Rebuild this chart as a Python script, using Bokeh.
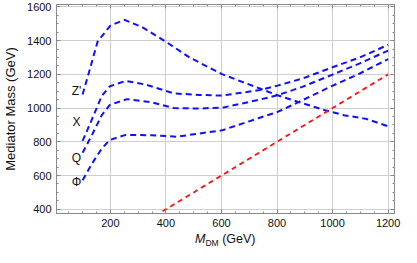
import math
from bokeh.plotting import figure
from bokeh.layouts import column
from bokeh.models import (FixedTicker, LinearAxis, Range1d, Div,
                          ColumnDataSource, CustomJSTickFormatter)
from bokeh.core.properties import value
from bokeh.embed import file_html
from bokeh.resources import INLINE

# ---- data ----
zp_x = [100, 120, 154, 200, 251, 314, 399, 485, 602, 733, 802, 881, 973, 1041, 1121, 1200]
zp_y = [1080, 1195, 1394, 1489, 1523, 1480, 1394, 1300, 1201, 1119, 1076, 1034, 987, 958, 936, 892]

xx_x = [100, 140, 169, 198, 255, 328, 428, 519, 600, 733, 802, 893, 995, 1098, 1200]
xx_y = [805, 958, 1072, 1129, 1161, 1139, 1087, 1078, 1074, 1105, 1133, 1176, 1239, 1300, 1375]

q_x = [100, 135, 169, 198, 260, 348, 428, 519, 608, 733, 802, 893, 995, 1098, 1200]
q_y = [735, 845, 958, 1019, 1053, 1034, 1000, 997, 1004, 1048, 1076, 1127, 1195, 1265, 1341]

phi_x = [100, 135, 169, 198, 255, 348, 439, 519, 602, 733, 802, 881, 995, 1098, 1200]
phi_y = [572, 674, 760, 811, 841, 839, 830, 849, 868, 940, 977, 1038, 1129, 1205, 1290]

diag_x = [0, 1200]
diag_y = [0, 1200]

curve_names = ["Z'", "X", "Q", "\u03a6"]
name_x = [78, 78, 78, 78]
name_y = [1100, 920, 703, 561]

x_major = [200, 400, 600, 800, 1000, 1200]
x_minor = list(range(0, 1250, 50))
y_major = [400, 600, 800, 1000, 1200, 1400, 1600]
y_minor = list(range(350, 1650, 50))

FONT = "Liberation Sans"
FRAME = "#8a8a8a"
GRID = "#cfcfcf"
TXT = "#111111"

p = figure(width=401, height=231, x_range=Range1d(6, 1223), y_range=Range1d(375, 1614),
           output_backend="svg", toolbar_location=None,
           min_border_left=52, min_border_right=7, min_border_top=4, min_border_bottom=18)
p.background_fill_color = "white"
p.border_fill_color = "white"
p.outline_line_color = FRAME

xt = FixedTicker(ticks=x_major, minor_ticks=x_minor)
yt = FixedTicker(ticks=y_major, minor_ticks=y_minor)

p.xaxis.ticker = xt
p.yaxis.ticker = yt
p.xgrid.ticker = xt
p.ygrid.ticker = yt
p.grid.grid_line_color = GRID
p.grid.grid_line_width = 1

top = LinearAxis(ticker=xt, formatter=CustomJSTickFormatter(code="return ''"))
right = LinearAxis(ticker=yt, formatter=CustomJSTickFormatter(code="return ''"))
p.add_layout(top, "above")
p.add_layout(right, "right")

for ax in p.axis:
    ax.axis_line_color = FRAME
    ax.major_tick_line_color = FRAME
    ax.minor_tick_line_color = FRAME
    ax.major_tick_in = 4
    ax.major_tick_out = 0
    ax.minor_tick_in = 2
    ax.minor_tick_out = 0
    ax.major_label_text_font = FONT
    ax.major_label_text_font_size = "11px"
    ax.major_label_text_color = TXT

for ax in (top, right):
    ax.major_label_standoff = 0
    ax.major_label_text_font_size = "0px"

p.xaxis[0].major_label_standoff = 5
p.yaxis[0].major_label_standoff = 5
p.yaxis[0].axis_label = "Mediator Mass (GeV)"
p.yaxis[0].axis_label_text_font = FONT
p.yaxis[0].axis_label_text_font_size = "13px"
p.yaxis[0].axis_label_text_font_style = "normal"
p.yaxis[0].axis_label_text_color = TXT
p.yaxis[0].axis_label_standoff = 6

# curves
blue = "#1010ff"
for xs, ys in ((zp_x, zp_y), (xx_x, xx_y), (q_x, q_y), (phi_x, phi_y)):
    p.line(xs, ys, line_color=blue, line_width=2, line_dash="6 4")
p.line(diag_x, diag_y, line_color="#ff1010", line_width=1.8, line_dash="5 4")

src = ColumnDataSource(dict(x=name_x, y=name_y, t=curve_names))
p.text(x="x", y="y", text="t", source=src, text_font=value(FONT),
       text_font_size=value("12px"), text_align="center", text_baseline="middle",
       text_color=TXT)

# x-axis title: italic M with subscript DM
xtitle = Div(
    text=("<div style=\"padding-left:195px;font-family:'Liberation Sans';"
          "font-size:12.5px;line-height:16px;color:#111111;white-space:nowrap;\">"
          "<i>M</i><span style=\"font-size:8.5px;position:relative;top:2.5px;\">DM</span>"
          " (GeV)</div>"),
    width=401, height=16, margin=(0, 0, 0, 0))

layout = column(p, xtitle, spacing=0)

open("out.html", "w").write(file_html(layout, INLINE))
